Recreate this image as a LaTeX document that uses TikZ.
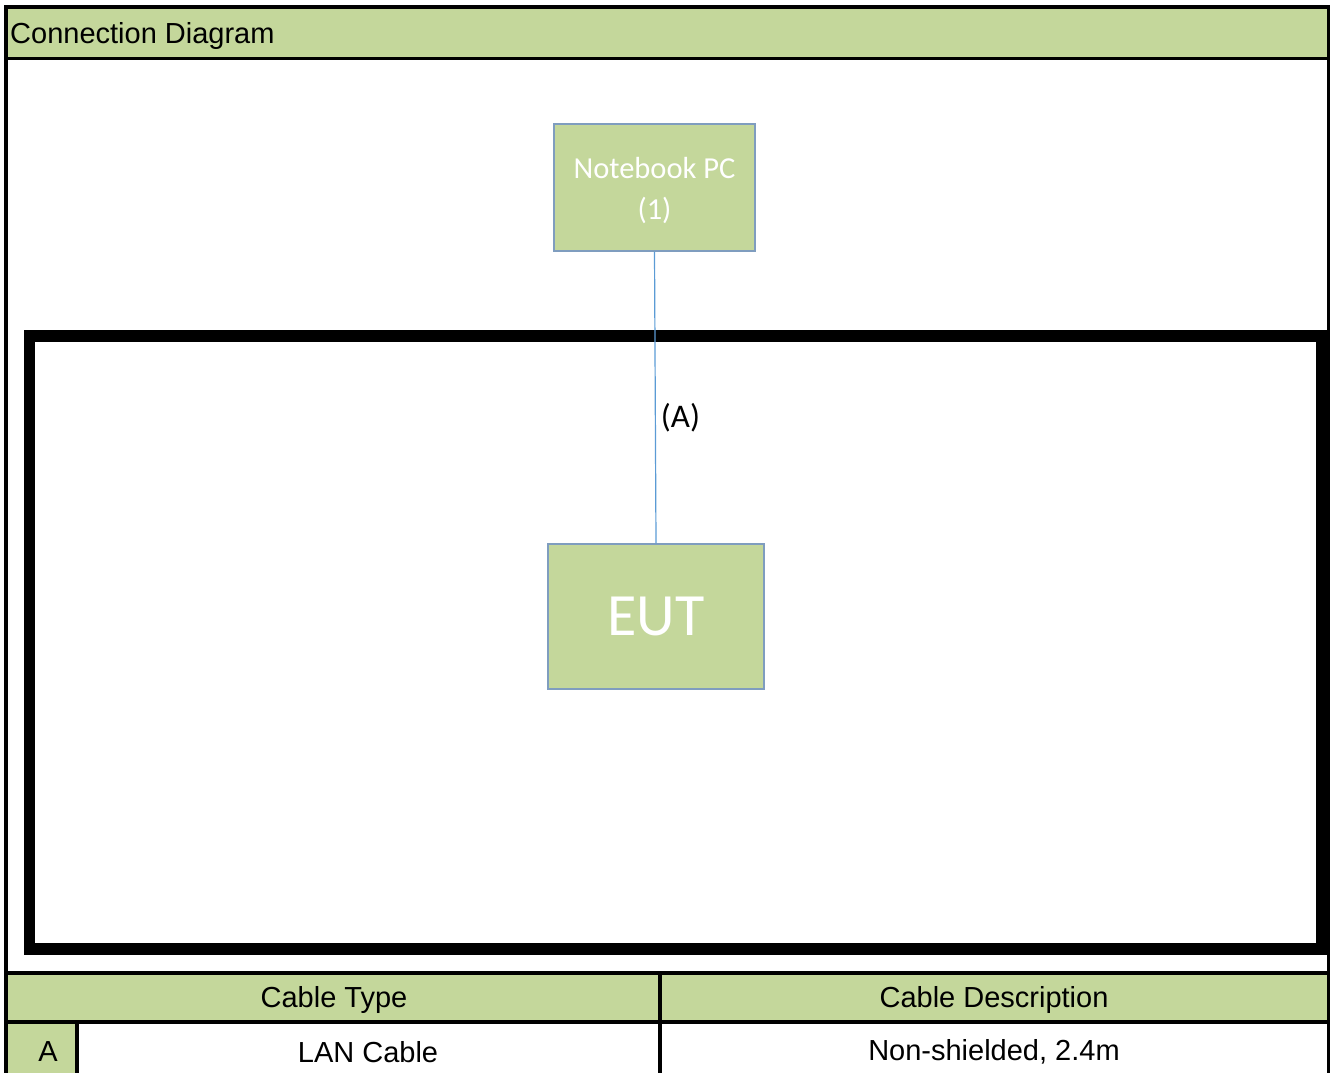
\documentclass[tikz,border=0pt]{standalone}
\usepackage{fontspec}
\setmainfont{Liberation Sans}
\newfontfamily\boxfont{Carlito}
\usetikzlibrary{calc}
\usetikzlibrary{positioning}
\definecolor{cellgreen}{HTML}{C4D79B}
\definecolor{boxedge}{HTML}{7F9DBF}
\definecolor{cablecol}{HTML}{5B9BD5}

\begin{document}
\begin{tikzpicture}[x=1pt,y=-1pt,
  unit/.style={draw=boxedge, line width=1.3pt, fill=cellgreen, text=white, align=center, inner sep=0pt},
  cell/.style={font=\fontsize{29}{32}\selectfont, inner sep=0pt, anchor=center},
  rule/.style={black, line width=3.5pt}]
\useasboundingbox (0,0) rectangle (1330,1073);
% green bands
\fill[cellgreen] (6,7) rectangle (1330,58.5);
\fill[cellgreen] (6,973) rectangle (1330,1022);
\fill[cellgreen] (6,1022) rectangle (77,1073);
% frame and table rules
\draw[rule] (6,1073) -- (6,7) -- (1328.5,7) -- (1328.5,1073);
\draw[rule] (6,58.5) -- (1330,58.5);
\draw[rule] (6,973) -- (1330,973);
\draw[rule] (6,1022) -- (1330,1022);
\draw[rule] (660,973) -- (660,1073);
\draw[rule] (77,1022) -- (77,1073);
\node[anchor=west, inner sep=2pt, font=\fontsize{29}{32}\selectfont] (title) at (8,36) {Connection Diagram};
% test area
\draw[line width=11.5pt] (29.5,336) rectangle (1322,949);
\node[unit, minimum width=201, minimum height=127, font=\boxfont\fontsize{30.5}{41}\selectfont] (pc) at (654.5,187.5) {\rule{0pt}{27pt}Notebook PC\\(1)};
\node[unit, minimum width=216, minimum height=145, font=\boxfont\fontsize{60}{72}\selectfont] (eut) at (656,616.5) {EUT};
\draw[cablecol, line width=1.2pt] (pc.south) -- (eut.north)
  node[pos=0.57, right, inner sep=5pt, text=black, font=\boxfont\fontsize{33}{36}\selectfont] (cablelbl) {(A)};
% cable table
\node[cell] (typehead) at (334,1000) {Cable Type};
\node[cell] (deschead) at (994,1000) {Cable Description};
\node[cell] (rowid) at (48,1052) {A};
\node[cell] (rowtype) at (368,1052) {LAN Cable};
\node[cell] (rowdesc) at (994,1052) {Non-shielded, 2.4m};
\end{tikzpicture}
\end{document}
